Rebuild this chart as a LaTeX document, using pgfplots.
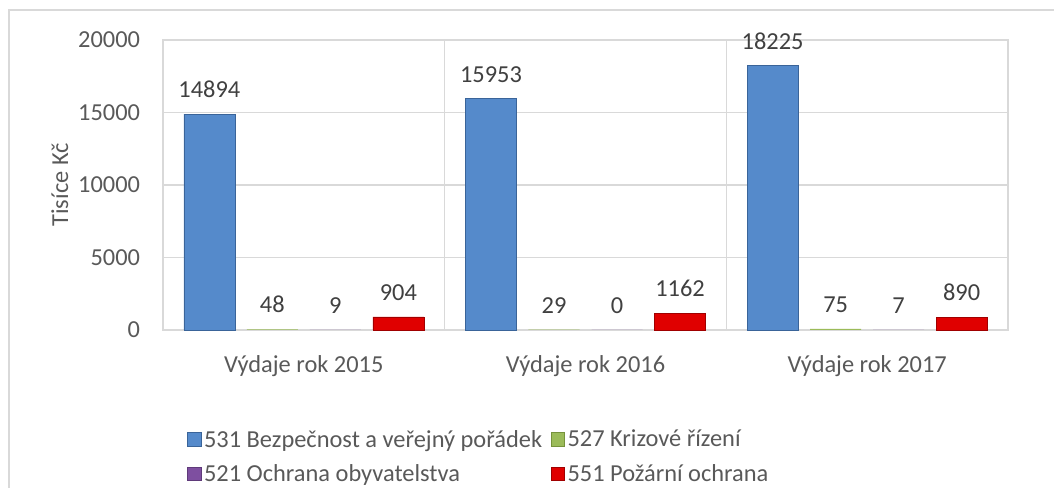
\documentclass[border=0pt]{standalone}
\usepackage{pgfplots}
\pgfplotsset{compat=1.18}
\usepackage{fontspec}
\setmainfont{Carlito}
\definecolor{txt}{HTML}{595959}
\definecolor{lbl}{HTML}{404040}
\definecolor{grd}{HTML}{D9D9D9}
\definecolor{cblue}{HTML}{558ACB}
\definecolor{cblued}{HTML}{3A6499}
\definecolor{cgreen}{HTML}{9BBB59}
\definecolor{cgreend}{HTML}{76923C}
\definecolor{cpurple}{HTML}{7E4FA0}
\definecolor{cpurpled}{HTML}{5F3A7A}
\definecolor{cred}{HTML}{E00000}
\definecolor{credd}{HTML}{A00000}
\begin{document}
\begin{tikzpicture}
\path[use as bounding box] (0,0) rectangle (790.5pt,366pt);
\draw[grd, line width=0.8pt] (6.75pt,-5pt) |- (800pt,358.5pt);
\begin{axis}[
  at={(122.25pt,118.5pt)}, anchor=south west,
  scale only axis, width=633.75pt, height=217.5pt,
  font=\fontsize{18.3}{22}\selectfont,
  ybar=9pt, bar width=38.25pt,
  xmin=-0.5, xmax=2.5, ymin=0, ymax=20000,
  xtick={0,1,2},
  xticklabels={Výdaje rok 2015, Výdaje rok 2016, Výdaje rok 2017},
  minor xtick={0.5,1.5},
  xminorgrids=true, ymajorgrids=true,
  grid style={grd, line width=0.8pt},
  minor grid style={grd, line width=0.8pt},
  ytick={0,5000,10000,15000,20000},
  scaled y ticks=false,
  /pgf/number format/1000 sep={},
  /pgf/number format/assume math mode=true,
  major tick length=0pt, minor tick length=0pt,
  axis line style={grd, line width=0.8pt},
  tick label style={txt, inner sep=0pt},
  xticklabel style={yshift=-19pt},
  yticklabel style={xshift=-17pt},
  ylabel={Tisíce Kč},
  ylabel style={txt, at={(axis description cs:-0.122,0.5)}, anchor=center},
  clip=false,
  nodes near coords,
  every node near coord/.append style={lbl, anchor=south, inner sep=0pt, yshift=12pt,
     /pgf/number format/1000 sep={}, /pgf/number format/assume math mode=true},
  legend columns=2,
  legend cell align=left,
  legend style={at={(axis description cs:0.0284,-0.335)}, anchor=north west,
     draw=none, fill=none, txt, row sep=7.5pt, inner sep=0pt,
     /tikz/every even column/.append style={column sep=0pt}},
  legend image code/.code={\draw[#1, line width=0.6pt] (0pt,-5pt) rectangle (10pt,5pt);},
]
\addplot[fill=cblue, draw=cblued] coordinates {(0,14894) (1,15953) (2,18225)};
\addplot[fill=cgreen, draw=none, legend image code/.code={\draw[fill=cgreen, draw=cgreend, line width=0.6pt] (0pt,-5pt) rectangle (10pt,5pt);}] coordinates {(0,48) (1,29) (2,75)};
\addplot[fill=cpurple, draw=none, legend image code/.code={\draw[fill=cpurple, draw=cpurpled, line width=0.6pt] (0pt,-5pt) rectangle (10pt,5pt);}] coordinates {(0,9) (1,0) (2,7)};
\addplot[fill=cred, draw=credd] coordinates {(0,904) (1,1162) (2,890)};
\legend{\makebox[258pt][l]{531 Bezpečnost a veřejný pořádek}, 527 Krizové řízení,
        \makebox[258pt][l]{521 Ochrana obyvatelstva}, 551 Požární ochrana}
\end{axis}
\end{tikzpicture}
\end{document}
